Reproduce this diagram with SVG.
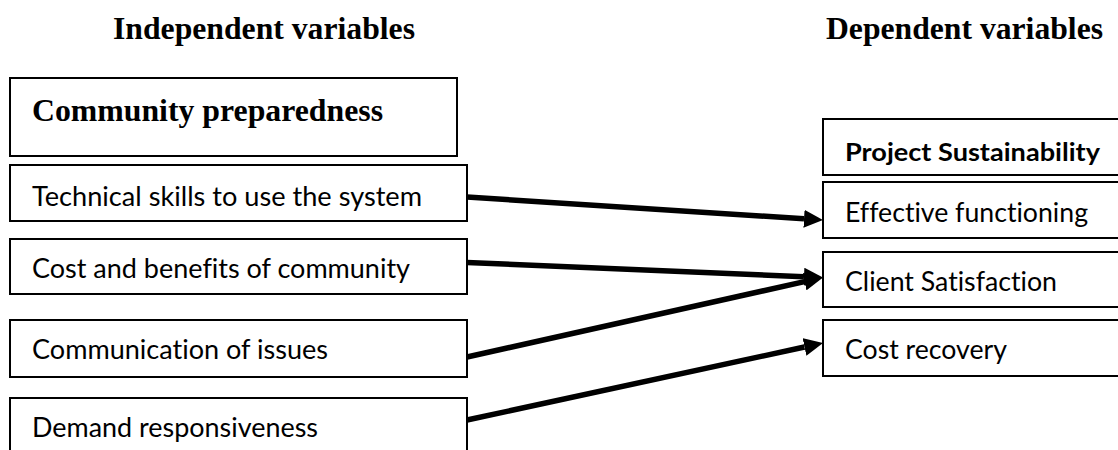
<svg xmlns="http://www.w3.org/2000/svg" width="1118" height="450" viewBox="0 0 1118 450">
<style>
.box{fill:#fff;stroke:#000;stroke-width:2}
.hd{font-family:"Liberation Serif","Times New Roman",serif;font-weight:bold;font-size:32px;fill:#000}
.tx{font-family:Lato,"Open Sans",sans-serif;font-size:27px;fill:#000;font-variant-ligatures:none}
.tb{font-family:Lato,"Open Sans",sans-serif;font-weight:bold;font-size:24px;fill:#000;font-variant-ligatures:none}
.ln{stroke:#000;stroke-width:5.5;fill:none}
</style>
<defs>
<marker id="ah" markerUnits="userSpaceOnUse" markerWidth="19" markerHeight="18" viewBox="0 -9 19 18" refX="0" refY="0" orient="auto">
<path d="M0,-9 L19,0 L0,9 z" fill="#000"/>
</marker>
</defs>
<rect width="1118" height="450" fill="#fff"/>
<g id="headers">
<text class="hd" x="113" y="39" textLength="302" lengthAdjust="spacingAndGlyphs">Independent variables</text>
<text class="hd" x="826" y="39" textLength="277" lengthAdjust="spacingAndGlyphs">Dependent variables</text>
</g>
<g id="community">
<rect class="box" x="10" y="78" width="447" height="78"/>
<text class="hd" x="32" y="121" textLength="351" lengthAdjust="spacingAndGlyphs">Community preparedness</text>
</g>
<g id="technical">
<rect class="box" x="10" y="165" width="457" height="56"/>
<text class="tx" x="32" y="206" textLength="390" lengthAdjust="spacingAndGlyphs">Technical skills to use the system</text>
</g>
<g id="costbenefits">
<rect class="box" x="10" y="239" width="457" height="55"/>
<text class="tx" x="32" y="278" textLength="378" lengthAdjust="spacingAndGlyphs">Cost and benefits of community</text>
</g>
<g id="communication">
<rect class="box" x="10" y="320" width="457" height="57"/>
<text class="tx" x="32" y="359" textLength="296" lengthAdjust="spacingAndGlyphs">Communication of issues</text>
</g>
<g id="demand">
<rect class="box" x="10" y="398" width="457" height="70"/>
<text class="tx" x="32" y="437" textLength="286" lengthAdjust="spacingAndGlyphs">Demand responsiveness</text>
</g>
<g id="sustainability">
<rect class="box" x="823" y="119" width="310" height="56"/>
<text class="tb" x="845" y="161" textLength="255" lengthAdjust="spacingAndGlyphs">Project Sustainability</text>
</g>
<g id="effective">
<rect class="box" x="823" y="182" width="310" height="56"/>
<text class="tx" x="845" y="222" textLength="243" lengthAdjust="spacingAndGlyphs">Effective functioning</text>
</g>
<g id="client">
<rect class="box" x="823" y="252" width="310" height="55"/>
<text class="tx" x="845" y="291" textLength="212" lengthAdjust="spacingAndGlyphs">Client Satisfaction</text>
</g>
<g id="costrecovery">
<rect class="box" x="823" y="320" width="310" height="56"/>
<text class="tx" x="845" y="359" textLength="162" lengthAdjust="spacingAndGlyphs">Cost recovery</text>
</g>
<g id="connectors">
<path class="ln" d="M467,197 L804,218.8" marker-end="url(#ah)"/>
<path class="ln" d="M467,262.5 L804,276.7" marker-end="url(#ah)"/>
<path class="ln" d="M467,357 L804.5,281.6" marker-end="url(#ah)"/>
<path class="ln" d="M467,420 L804.5,347" marker-end="url(#ah)"/>
</g>
</svg>
